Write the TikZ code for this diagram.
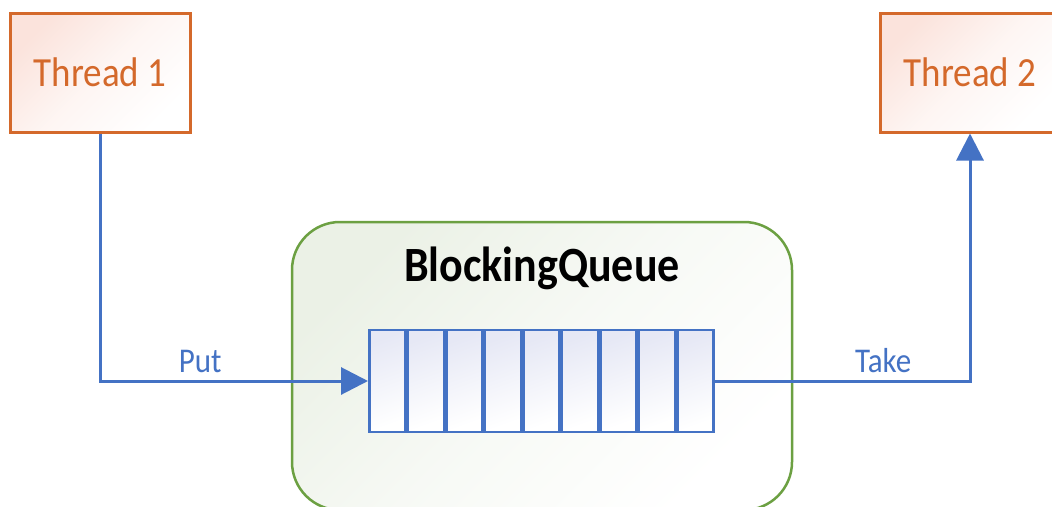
\documentclass[tikz,border=0pt]{standalone}
\usepackage{fontspec}
\setmainfont{Carlito}
\usetikzlibrary{arrows.meta}
\definecolor{thorange}{HTML}{D4692B}
\definecolor{thfill}{HTML}{FBE3DC}
\definecolor{qblue}{HTML}{4472C4}
\definecolor{qfill}{HTML}{E6E8F5}
\definecolor{bqgreen}{HTML}{6CA042}
\definecolor{bqfill}{HTML}{EBF1E6}
\newcommand\tallt[1]{\scalebox{1}[1.12]{#1}}
\tikzset{
  threadbox/.style={draw=thorange, line width=3pt, top color=thfill, bottom color=white,
    middle color=thfill!35!white, shading angle=45,
    minimum width=180pt, minimum height=119pt, inner sep=0pt, text=thorange,
    font=\fontsize{37}{40}\selectfont},
  cell/.style={draw=qblue, line width=2.7pt, top color=qfill, bottom color=white, shading angle=20,
    minimum width=36pt, minimum height=102pt, inner sep=0pt, anchor=west},
  bqbox/.style={draw=bqgreen, line width=2.5pt, rounded corners=48pt, top color=bqfill, bottom color=white,
    middle color=bqfill!40!white, shading angle=45, minimum width=500pt, minimum height=288pt, inner sep=0pt},
  conn/.style={draw=qblue, line width=3pt, -{Triangle[length=27pt,width=27pt]}},
  lbl/.style={fill=white, text=qblue, inner sep=1pt, text depth=6pt, anchor=base, yshift=9pt,
    font=\fontsize{31}{34}\selectfont},
}
\begin{document}
\begin{tikzpicture}[x=1pt,y=-1pt]
\useasboundingbox (0,0) rectangle (1052,506);
\node[threadbox] (t1) at (100,72.5) {\tallt{Thread 1}};
\node[threadbox] (t2) at (970,72.5) {\tallt{Thread 2}};
\node[bqbox] (bq) at (542,366) {};
\node[anchor=base, font=\bfseries\fontsize{44}{48}\selectfont] (title) at (542,281) {\tallt{BlockingQueue}};
\foreach \i in {1,...,9} {
  \node[cell] (c\i) at ({368+(\i-1)*38.5},381) {};
}
\draw[conn] (t1.south) |- (c1.west) node[lbl, pos=0.687] (put) {\tallt{Put}};
\draw[conn] (c9.east) -| (t2.south) node[lbl, pos=0.33] (take) {\tallt{Take}};
\end{tikzpicture}
\end{document}
